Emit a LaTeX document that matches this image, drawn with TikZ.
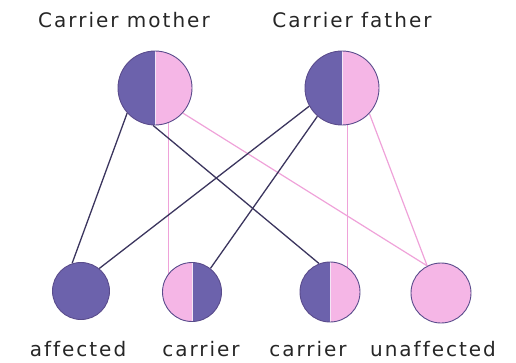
\documentclass[tikz,border=0pt]{standalone}
\usepackage{fontspec}
\setmainfont{DejaVu Sans}
\newfontfamily\lblfont[LetterSpace=10, Ligatures={NoCommon}]{DejaVu Sans}
\usetikzlibrary{backgrounds}
\definecolor{dk}{HTML}{6C62AC}
\definecolor{pk}{HTML}{F5B6E6}
\definecolor{rim}{HTML}{5A4C8C}
\definecolor{dline}{HTML}{3B355E}
\definecolor{pline}{HTML}{EFA2D9}
\definecolor{divc}{HTML}{F3E6F5}
\tikzset{
  person/.style={circle, draw=rim, line width=0.9pt, inner sep=0pt, minimum size=#1},
  leftdark/.style={path picture={
      \fill[pk] (path picture bounding box.south west) rectangle (path picture bounding box.north east);
      \fill[dk] (path picture bounding box.south west) rectangle (path picture bounding box.north);
      \draw[divc, line width=1pt] (path picture bounding box.south) -- (path picture bounding box.north);}},
  rightdark/.style={path picture={
      \fill[dk] (path picture bounding box.south west) rectangle (path picture bounding box.north east);
      \fill[pk] (path picture bounding box.south west) rectangle (path picture bounding box.north);
      \draw[divc, line width=1pt] (path picture bounding box.south) -- (path picture bounding box.north);}},
  alldark/.style={fill=dk},
  allpink/.style={fill=pk},
  dlink/.style={draw=dline, line width=1.3pt},
  plink/.style={draw=pline, line width=1.2pt},
  lbl/.style={anchor=base, font=\lblfont\fontsize{20}{24}\selectfont, text=black!85}
}
\begin{document}
\begin{tikzpicture}[x=1pt, y=-1pt]
\useasboundingbox (0,0) rectangle (516,362);
\node[person=74pt, leftdark] (m) at (155,88) {};
\node[person=74pt, leftdark] (f) at (342,88) {};
\node[person=57pt, alldark] (a) at (81,291) {};
\node[person=59pt, rightdark] (c1) at (192,292) {};
\node[person=60pt, leftdark] (c2) at (330,292) {};
\node[person=60pt, allpink] (u) at (441,293) {};

\node[lbl] (lm) at (124,27) {Carrier mother};
\node[lbl] (lf) at (352,27) {Carrier father};
\node[lbl] (la) at (78,356) {affected};
\node[lbl] (lc1) at (201,356) {carrier};
\node[lbl] (lc2) at (308,356) {carrier};
\node[lbl] (lu) at (433,356) {unaffected};

\begin{scope}[on background layer]
  \path[plink] (m.318) -- (u.117);
  \path[plink] (f.317) -- (u.117);
  \path[plink] (m.291) -- (m.291 |- c1.center);
  \path[plink] (f.278) -- (f.278 |- c2.center);
  \path[dlink] (m.222) -- (a.108);
  \path[dlink] (m.267) -- (c2.111);
  \path[dlink] (f.209) -- (a.51);
  \path[dlink] (f.229) -- (c1.52);
\end{scope}
\end{tikzpicture}
\end{document}
